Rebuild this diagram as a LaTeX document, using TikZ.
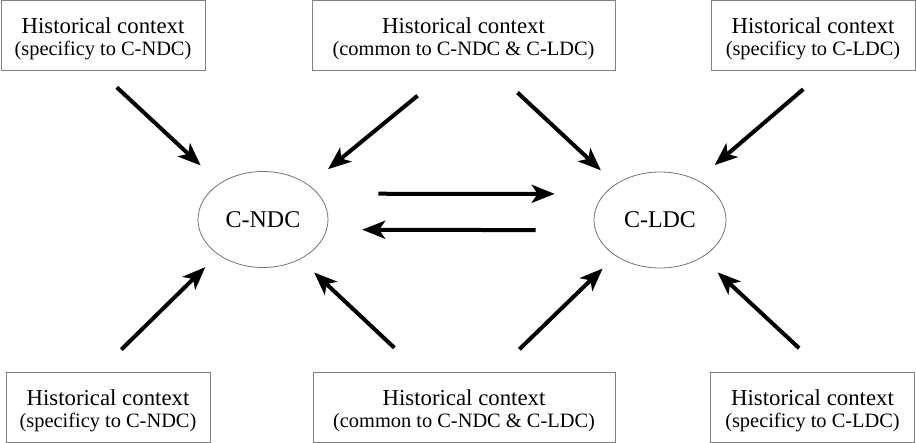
\documentclass[tikz,border=0pt]{standalone}
\usepackage{fontspec}
\setmainfont{Liberation Serif}
\usepackage{tikz}
\usetikzlibrary{shapes}
\usetikzlibrary{arrows.meta,positioning,calc}
\tikzstyle{Sbox}=[shape=rectangle,draw=black!50,line width=0.5pt,minimum width=102pt,minimum height=35pt,inner sep=0pt,align=center,font=\fontsize{10.2}{10.9}\selectfont]
\tikzstyle{Wbox}=[Sbox,minimum width=151.5pt]
\tikzstyle{Cstate}=[shape=ellipse,draw=black!55,line width=0.4pt,minimum width=65pt,minimum height=48pt,inner sep=0pt,font=\fontsize{12}{14}\selectfont]
\tikzstyle{infl}=[-{Stealth[length=11.5pt,width=9pt,inset=3pt]},line width=2pt]
\newcommand{\hctx}[1]{{\fontsize{11.4}{10.9}\selectfont\rule{0pt}{11.5pt}Historical context}\\#1}

\begin{document}
\begin{tikzpicture}[x=0.5pt,y=-0.5pt]
\useasboundingbox (0,0) rectangle (916,443);

\node[Sbox] (tl) at (103,35.5) {\hctx{(specificy to C-NDC)}};
\node[Wbox] (tm) at (463.5,35.5) {\hctx{(common to C-NDC \& C-LDC)}};
\node[Sbox] (tr) at (813,35.5) {\hctx{(specificy to C-LDC)}};

\node[Cstate] (ndc) at (263,219.5) {C-NDC};
\node[Cstate,minimum width=66pt] (ldc) at (660,220) {C-LDC};

\node[Sbox] (bl) at (108,407.5) {\hctx{(specificy to C-NDC)}};
\node[Wbox,minimum width=151pt] (bm) at (464,407.5) {\hctx{(common to C-NDC \& C-LDC)}};
\node[Sbox] (br) at (812.5,407.5) {\hctx{(specificy to C-LDC)}};

 \path

(tl.264) edge [infl,shorten <=12pt,shorten >=13pt] (ndc.140)
(tm.246) edge [infl,shorten <=19.5pt,shorten >=12.4pt] (ndc.37)
(tm.311) edge [infl,shorten <=15.8pt,shorten >=10pt] (ldc.141)
(tr.288) edge [infl,shorten <=14pt,shorten >=11.4pt] (ldc.47)

(bl.105) edge [infl,shorten <=16pt,shorten >=8.9pt] (ndc.218)
(bm.141) edge [infl,shorten <=17.7pt,shorten >=9.6pt] (ndc.313)
(bm.48) edge [infl,shorten <=16.3pt,shorten >=9pt] (ldc.219)
(br.71) edge [infl,shorten <=17.5pt,shorten >=10.8pt] (ldc.318)

(ndc.25) edge [infl,shorten <=30pt,shorten >=24.7pt] (ldc.155)
(ldc.189) edge [infl,shorten <=29.7pt,shorten >=17.6pt] (ndc.351);

\end{tikzpicture}
\end{document}
